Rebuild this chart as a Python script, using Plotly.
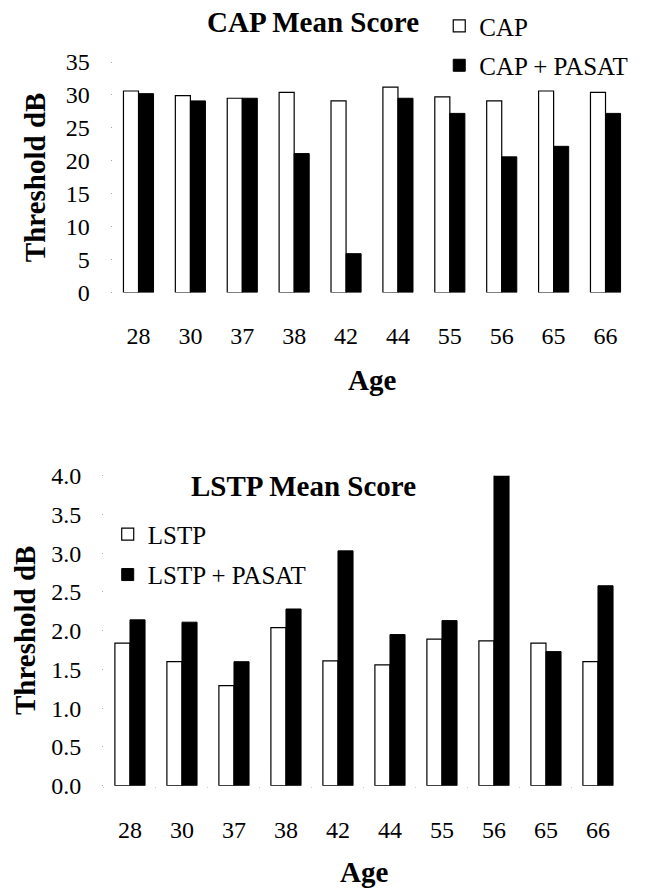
import plotly.graph_objects as go

ages = ["28", "30", "37", "38", "42", "44", "55", "56", "65", "66"]
cap = [30.6, 29.9, 29.5, 30.4, 29.1, 31.2, 29.7, 29.1, 30.6, 30.4]
cap_pasat = [30.2, 29.1, 29.5, 21.1, 5.9, 29.5, 27.2, 20.6, 22.2, 27.2]
lstp = [1.84, 1.60, 1.29, 2.04, 1.61, 1.56, 1.89, 1.87, 1.84, 1.60]
lstp_pasat = [2.14, 2.11, 1.60, 2.28, 3.03, 1.95, 2.13, 4.02, 1.73, 2.58]
cap_ticks = [0, 5, 10, 15, 20, 25, 30, 35]
lstp_ticks = [0.0, 0.5, 1.0, 1.5, 2.0, 2.5, 3.0, 3.5, 4.0]

FONT = "Liberation Serif, Times New Roman, serif"
fig = go.Figure()

fig.add_trace(go.Bar(x=ages, y=cap, name="CAP", xaxis="x", yaxis="y",
                     marker=dict(color="white", line=dict(color="black", width=1.2)),
                     legend="legend", legendgroup="a"))
fig.add_trace(go.Bar(x=ages, y=cap_pasat, name="CAP + PASAT", xaxis="x", yaxis="y",
                     marker=dict(color="black", line=dict(color="black", width=1)),
                     legend="legend", legendgroup="b"))
fig.add_trace(go.Bar(x=ages, y=lstp, name="LSTP", xaxis="x2", yaxis="y2",
                     marker=dict(color="white", line=dict(color="black", width=1.2)),
                     legend="legend2", legendgroup="c"))
fig.add_trace(go.Bar(x=ages, y=lstp_pasat, name="LSTP + PASAT", xaxis="x2", yaxis="y2",
                     marker=dict(color="black", line=dict(color="black", width=1)),
                     legend="legend2", legendgroup="d"))

tickfont = dict(family=FONT, size=24, color="black")
bold = dict(family=FONT, size=29, color="black")
legfont = dict(family=FONT, size=25, color="black")

fig.update_layout(
    width=645, height=890,
    margin=dict(l=0, r=0, t=0, b=0, autoexpand=False),
    paper_bgcolor="white", plot_bgcolor="white",
    barmode="group", bargap=0.42, bargroupgap=0,
    font=dict(family=FONT, color="black"),
    xaxis=dict(domain=[0.1745, 0.979], anchor="y", type="category",
               showgrid=False, showline=False, zeroline=False, ticks="",
               tickfont=tickfont, ticklabelstandoff=26, automargin=False),
    yaxis=dict(domain=[0.6713, 0.9303], anchor="x", range=[0, 35],
               tickvals=cap_ticks, showgrid=False, showline=False, zeroline=False,
               ticks="outside", ticklen=1, tickwidth=1, tickcolor="#aaaaaa",
               tickfont=tickfont, ticklabelstandoff=16, automargin=False),
    xaxis2=dict(domain=[0.1612, 0.9674], anchor="y2", type="category",
                showgrid=False, showline=False, zeroline=False,
                ticks="outside", tickson="boundaries", ticklen=1, tickcolor="#cccccc",
                tickfont=tickfont, ticklabelstandoff=27, automargin=False),
    yaxis2=dict(domain=[0.1172, 0.4655], anchor="x2", range=[0, 4.0],
                tickvals=lstp_ticks, tickformat=".1f",
                showgrid=False, showline=False, zeroline=False,
                ticks="outside", ticklen=1, tickwidth=1, tickcolor="#aaaaaa",
                tickfont=tickfont, ticklabelstandoff=16, automargin=False),
    legend=dict(x=0.681, y=0.9966, xanchor="left", yanchor="top",
                font=legfont, bgcolor="rgba(0,0,0,0)", tracegroupgap=4,
                traceorder="grouped"),
    legend2=dict(x=0.167, y=0.4255, xanchor="left", yanchor="top",
                 font=legfont, bgcolor="rgba(0,0,0,0)", tracegroupgap=5,
                 traceorder="grouped"),
    annotations=[
        dict(text="<b>CAP Mean Score</b>", x=0.4853, y=0.9753, xref="paper", yref="paper",
             showarrow=False, xanchor="center", yanchor="middle", font=bold),
        dict(text="<b>LSTP Mean Score</b>", x=0.4705, y=0.4539, xref="paper", yref="paper",
             showarrow=False, xanchor="center", yanchor="middle", font=bold),
        dict(text="<b>Age</b>", x=0.5767, y=0.573, xref="paper", yref="paper",
             showarrow=False, xanchor="center", yanchor="middle", font=bold),
        dict(text="<b>Age</b>", x=0.5643, y=0.0202, xref="paper", yref="paper",
             showarrow=False, xanchor="center", yanchor="middle", font=bold),
        dict(text="<b>Threshold dB</b>", x=0.0543, y=0.801, xref="paper", yref="paper",
             showarrow=False, xanchor="center", yanchor="middle", textangle=-90, font=bold),
        dict(text="<b>Threshold dB</b>", x=0.0388, y=0.2921, xref="paper", yref="paper",
             showarrow=False, xanchor="center", yanchor="middle", textangle=-90, font=bold),
    ],
)

fig.write_html("out.html", config={"displayModeBar": False},
               post_script="document.body.style.margin='0';")
